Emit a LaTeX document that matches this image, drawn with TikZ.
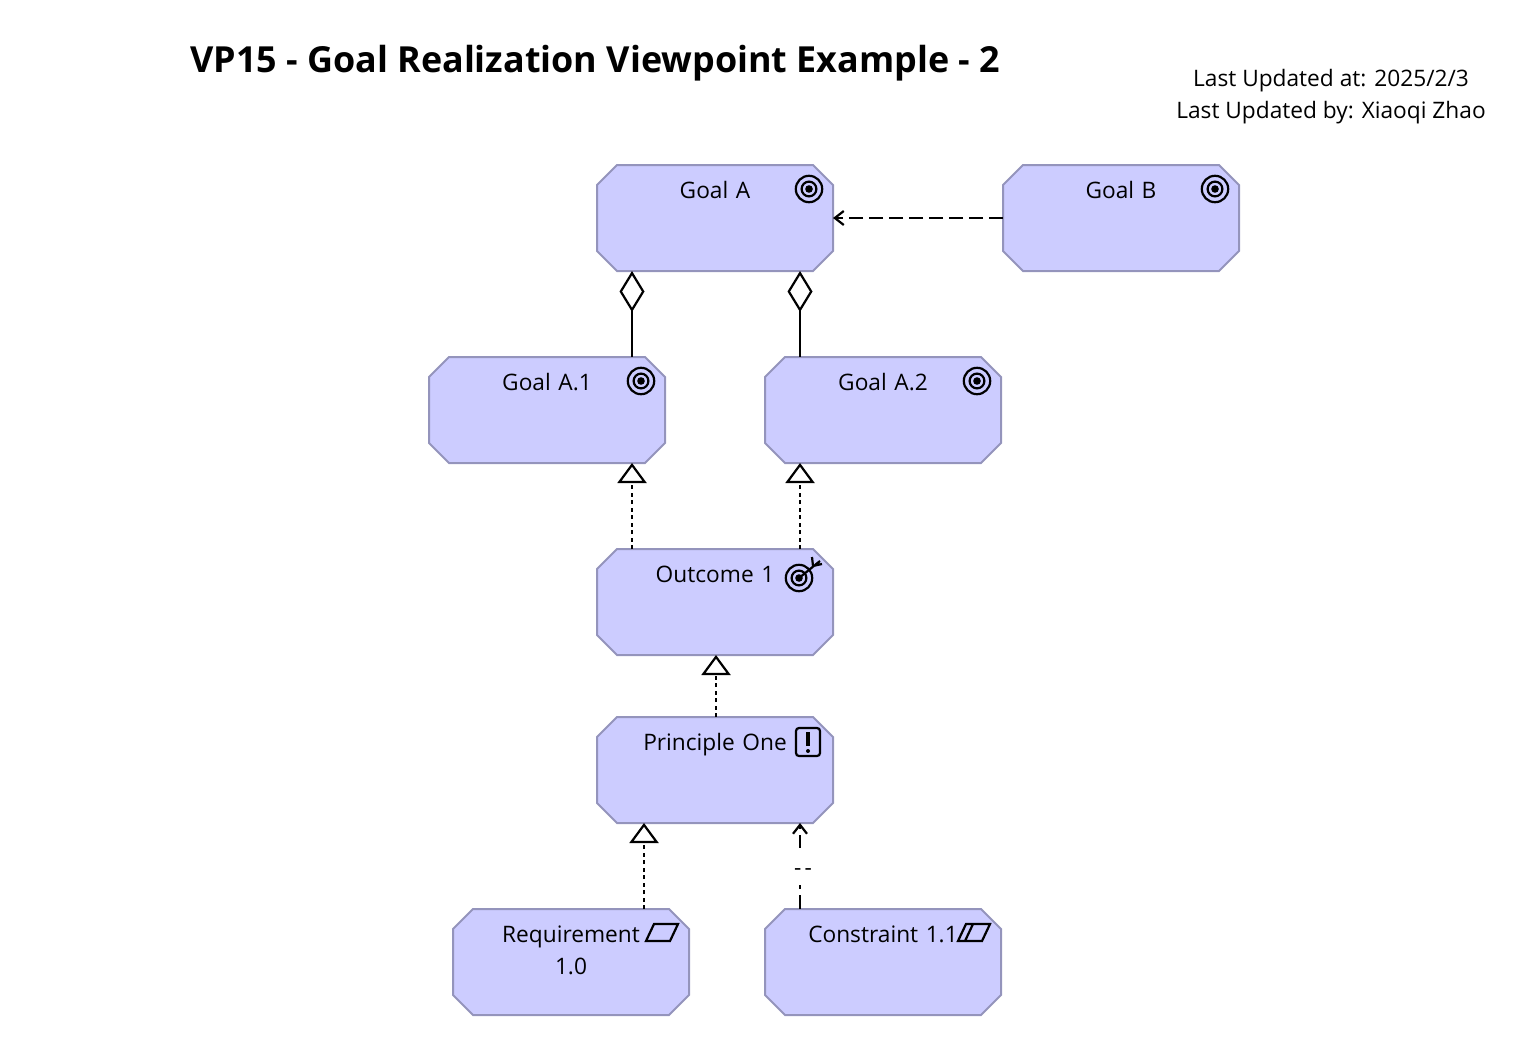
\documentclass[tikz,border=0pt]{standalone}
\usepackage{fontspec}
\setmainfont{Open Sans}
\usetikzlibrary{arrows.meta,shapes.misc}
\definecolor{elemfill}{HTML}{CCCCFF}
\definecolor{elemline}{HTML}{9494BC}
\tikzset{
  element/.style={chamfered rectangle,chamfered rectangle xsep=10pt,chamfered rectangle ysep=10pt,
    draw=elemline,fill=elemfill,line width=2pt,
    font=\fontsize{22.7}{32}\selectfont,align=center,text width=216pt,text height=23pt,text depth=63pt,
    inner sep=0pt,outer sep=0pt},
  conn/.style={line width=2.2pt,black},
  aggregation/.style={conn,{Diamond[open,fill=white,length=41pt,width=25pt,line width=2.2pt]}-},
  realization/.style={conn,dash pattern=on 4pt off 3.5pt,-{Triangle[open,fill=white,length=20pt,width=29pt,line width=2.2pt]}},
  influence/.style={conn,dash pattern=on 14pt off 6pt,-{Straight Barb[length=9pt,width=14pt,line width=2.2pt]}},
  goalicon/.pic={
    \draw[conn] (0,0) circle (13.2pt) (0,0) circle (7.4pt);
    \fill (0,0) circle (3.8pt);
  },
  outcomeicon/.pic={
    \draw[conn,fill=elemfill] (0,0) circle (13.2pt) (0,0) circle (7.4pt);
    \fill (0,0) circle (3.8pt);
    \draw[conn] (0,0) -- (21,-17) (13,-21) -- (14,-12) -- (23,-14);
  },
  principleicon/.pic={
    \draw[conn,rounded corners=3pt] (-12,-14) rectangle (12,14);
    \draw[line width=4pt] (0,-10) -- (0,4);
    \fill (0,9) circle (2pt);
  },
  requirementicon/.pic={
    \draw[conn,line join=miter] (-16,8) -- (-8,-9) -- (16,-9) -- (8,8) -- cycle;
  },
  constrainticon/.pic={
    \draw[conn,line join=miter] (-16,8) -- (-8,-9) -- (16,-9) -- (8,8) -- cycle (-9,8) -- (-1,-9);
  }
}
\begin{document}
\begin{tikzpicture}[x=1pt,y=-1pt]
  \useasboundingbox (0,0) rectangle (1538,1038);

  \node[font=\fontsize{35.9}{36}\selectfont\bfseries,anchor=base west,inner sep=0pt] (title) at (190,73)
    {VP15 - Goal Realization Viewpoint Example - 2};
  \node[font=\fontsize{22.7}{32}\selectfont,align=center,inner sep=0pt] (updated) at (1331,97)
    {Last Updated at: 2025/2/3\\Last Updated by: Xiaoqi Zhao};

  \node[element] (ga) at (715,218) {Goal A};
  \node[element] (gb) at (1121,218) {Goal B};
  \node[element] (gaone) at (547,410) {Goal A.1};
  \node[element] (gatwo) at (883,410) {Goal A.2};
  \node[element] (outcome) at (715,602) {Outcome 1};
  \node[element] (principle) at (715,770) {Principle One};
  \node[element] (req) at (571,962) {Requirement\\1.0};
  \node[element] (cons) at (883,962) {Constraint 1.1};

  % icons
  \pic at ([shift={(94,-29)}]ga.center) {goalicon};
  \pic at ([shift={(94,-29)}]gb.center) {goalicon};
  \pic at ([shift={(94,-29)}]gaone.center) {goalicon};
  \pic at ([shift={(94,-29)}]gatwo.center) {goalicon};
  \pic at ([shift={(84,-24)}]outcome.center) {outcomeicon};
  \pic at ([shift={(93,-28)}]principle.center) {principleicon};
  \pic at ([shift={(91,-29)}]req.center) {requirementicon};
  \pic at ([shift={(91,-29)}]cons.center) {constrainticon};

  % relations
  \draw[influence] (gb.west) -- (ga.east);
  \draw[aggregation] ([xshift=-83pt]ga.south) -- ([xshift=85pt]gaone.north);
  \draw[aggregation] ([xshift=85pt]ga.south) -- ([xshift=-83pt]gatwo.north);
  \draw[realization] ([xshift=-83pt]outcome.north) -- ([xshift=85pt]gaone.south);
  \draw[realization] ([xshift=85pt]outcome.north) -- ([xshift=-83pt]gatwo.south);
  \draw[realization] ([xshift=1pt]principle.north) -- ([xshift=1pt]outcome.south);
  \draw[realization] ([xshift=73pt]req.north) -- ([xshift=-71pt]principle.south);
  \draw[influence] ([xshift=-83pt]cons.north) -- node[pos=.5,fill=white,inner sep=0pt,text height=19pt,text depth=0pt,minimum height=37pt,xshift=3pt,
    font=\fontsize{22.7}{24}\selectfont] (conslabel) {{-}\kern3pt{-}} ([xshift=85pt]principle.south);
\end{tikzpicture}
\end{document}
